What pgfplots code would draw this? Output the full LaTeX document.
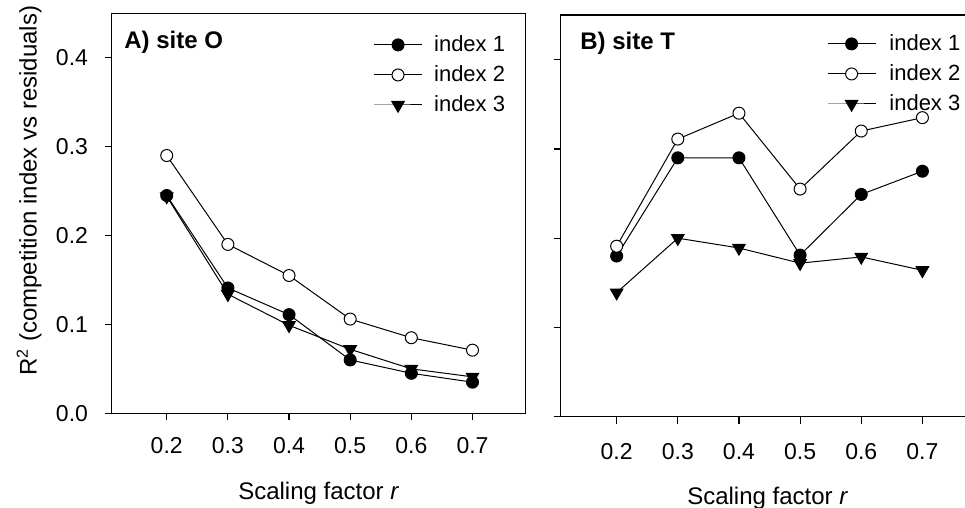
\documentclass[border=0pt]{standalone}
\usepackage{pgfplots}
\pgfplotsset{compat=1.18}
\usepackage{fontspec}
\setmainfont{Liberation Sans}
\begin{document}
\fontsize{11}{13}\selectfont
\begin{tikzpicture}
\pgfplotsset{
  panel/.style={
    scale only axis, width=207pt,
    ymin=0, ymax=0.45,
    xmin=0.11, xmax=0.787,
    axis line style={line width=0.6pt},
    tick align=outside, tick pos=left,
    major tick length=3.5pt,
    tick style={line width=0.6pt, black},
    xtick={0.2,0.3,0.4,0.5,0.6,0.7},
    ytick={0,0.1,0.2,0.3,0.4},
    /pgf/number format/assume math mode=true,
    /pgf/number format/fixed,
    /pgf/number format/fixed zerofill,
    /pgf/number format/precision=1,
    tick label style={font=\fontsize{11.5}{13}\selectfont},
    label style={font=\fontsize{12}{14}\selectfont},
    legend style={font=\fontsize{11}{13}\selectfont},
    legend cell align=left,
    legend image code/.code={\draw[mark repeat=2,mark phase=2,##1] plot coordinates {(0pt,0pt) (11.9pt,0pt) (23.85pt,0pt)};},
    every axis plot/.append style={line width=0.5pt, black},
  },
  i1/.style={mark=*, mark size=3pt, mark options={fill=black, draw=black}},
  i2/.style={mark=*, mark size=3pt, mark options={fill=white, draw=black}},
  i3/.style={mark=triangle*, mark size=3.6pt, mark options={rotate=180, fill=black, draw=black}},
}
% left panel
\begin{axis}[panel, at={(55.85pt,47.35pt)}, anchor=south west, height=200pt,
  yticklabel style={xshift=-4.5pt},
  xticklabel style={yshift=-4.6pt},
  xlabel={Scaling factor \textit{r}},
  xlabel style={at={(axis description cs:0.5,-0.2143)}, anchor=base},
  ylabel={R\textsuperscript{2} (competition index vs residuals)},
  ylabel style={at={(axis description cs:-0.1812,0.5565)}, anchor=base, rotate=0},
  legend style={draw=none, fill=none, at={(axis description cs:0.632,0.946)}, anchor=north west,
    inner sep=0pt, nodes={inner sep=0pt}, column sep=5.85pt, row sep=5.4pt},
]
\addplot[i1] coordinates {(0.2,0.245)(0.3,0.141)(0.4,0.111)(0.5,0.060)(0.6,0.045)(0.7,0.035)};
\addplot[i2] coordinates {(0.2,0.290)(0.3,0.190)(0.4,0.155)(0.5,0.106)(0.6,0.085)(0.7,0.071)};
\addplot[i3] coordinates {(0.2,0.244)(0.3,0.134)(0.4,0.099)(0.5,0.072)(0.6,0.050)(0.7,0.041)};
\legend{index 1, index 2, index 3}
\node[anchor=base west, inner sep=0pt, font=\fontsize{12}{14}\selectfont\bfseries] at (axis description cs:0.0297,0.913) {A) site O};
\end{axis}
% right panel
\begin{axis}[panel, at={(280.35pt,45.65pt)}, anchor=south west, height=200.85pt,
  xmin=0.1085, xmax=0.7855,
  yticklabels={},
  xticklabel style={yshift=-5.9pt},
  xlabel={Scaling factor \textit{r}},
  xlabel style={at={(axis description cs:0.5,-0.2198)}, anchor=base},
  legend style={draw=none, fill=none, at={(axis description cs:0.643,0.953)}, anchor=north west,
    inner sep=0pt, nodes={inner sep=0pt}, column sep=6.7pt, row sep=5.4pt},
]
\addplot[i1] coordinates {(0.2,0.180)(0.3,0.290)(0.4,0.290)(0.5,0.181)(0.6,0.249)(0.7,0.275)};
\addplot[i2] coordinates {(0.2,0.191)(0.3,0.311)(0.4,0.340)(0.5,0.255)(0.6,0.320)(0.7,0.335)};
\addplot[i3] coordinates {(0.2,0.139)(0.3,0.200)(0.4,0.189)(0.5,0.172)(0.6,0.179)(0.7,0.164)};
\legend{index 1, index 2, index 3}
\node[anchor=base west, inner sep=0pt, font=\fontsize{12}{14}\selectfont\bfseries] at (axis description cs:0.0466,0.913) {B) site T};
\end{axis}
\pgfresetboundingbox
\useasboundingbox (0,0) rectangle (482.5pt,254pt);
\end{tikzpicture}
\end{document}
